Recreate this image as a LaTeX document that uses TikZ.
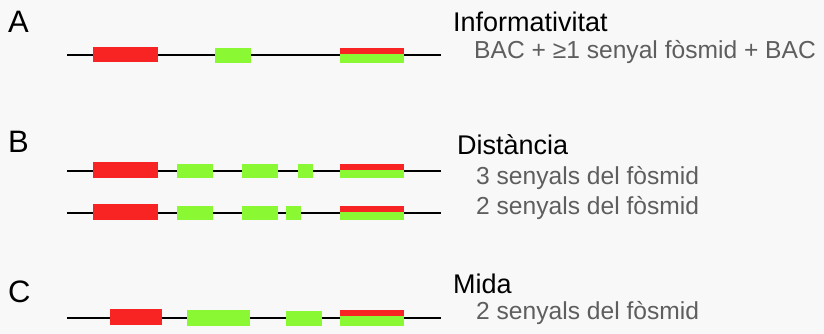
\documentclass[tikz,border=0pt]{standalone}
\usepackage{fontspec}
\setmainfont{Liberation Sans}
\definecolor{bacred}{HTML}{F82424}
\definecolor{fosgreen}{HTML}{8AF832}
\definecolor{notegray}{HTML}{5E5E5E}
\definecolor{paper}{HTML}{F8F8F8}

\begin{document}
\begin{tikzpicture}[x=1pt,y=-1pt]
\tikzset{dna/.style={line width=1.6pt,black},
  bac/.style={fill=bacred},
  fos/.style={fill=fosgreen},
  panel/.style={anchor=base west,inner sep=0pt,font=\fontsize{31}{31}\selectfont},
  head/.style={anchor=base west,inner sep=0pt,font=\fontsize{27}{27}\selectfont},
  note/.style={anchor=base west,inner sep=0pt,text=notegray,font=\fontsize{24.6}{24.6}\selectfont}}
\fill[paper] (0,0) rectangle (824,334);
\useasboundingbox (0,0) rectangle (824,334);
% ---- A: informativitat ----
\draw[dna] (67,55) -- (441,55);
\fill[bac] (93,47) rectangle (158,62);
\fill[fos] (215,48) rectangle (251,63);
\fill[bac] (340,48) rectangle (404,54);
\fill[fos] (340,54) rectangle (404,63);
\node[panel] (lblA) at (8,33) {A};
\node[head] (titA) at (453,32) {Informativitat};
\node[note] (noteA) at (474,59) {BAC + ≥1 senyal fòsmid + BAC};
% ---- B: distancia, two clones ----
\foreach \y/\g in {171/298, 213/286}{
  \draw[dna] (67,\y) -- (441,\y);
  \fill[bac] (93,\y-9) rectangle (158,\y+7);
  \foreach \a/\b in {177/213, 242/278, \g/\g+15}
    \fill[fos] (\a,\y-7) rectangle (\b,\y+7);
  \fill[bac] (340,\y-7) rectangle (404,\y-1);
  \fill[fos] (340,\y-1) rectangle (404,\y+7);
}
\node[panel] (lblB) at (8,153) {B};
\node[head] (titB) at (457,154) {Distància};
\node[note] (noteB1) at (476,184) {3 senyals del fòsmid};
\node[note] (noteB2) at (476,214) {2 senyals del fòsmid};
% ---- C: mida ----
\draw[dna] (67,318) -- (441,318);
\fill[bac] (110,309) rectangle (162,325);
\fill[fos] (187,310) rectangle (250,326);
\fill[fos] (286,311) rectangle (322,326);
\fill[bac] (340,310) rectangle (404,316);
\fill[fos] (340,316) rectangle (404,326);
\node[panel] (lblC) at (8,302) {C};
\node[head] (titC) at (453,293) {Mida};
\node[note] (noteC) at (476,319) {2 senyals del fòsmid};
\end{tikzpicture}
\end{document}
